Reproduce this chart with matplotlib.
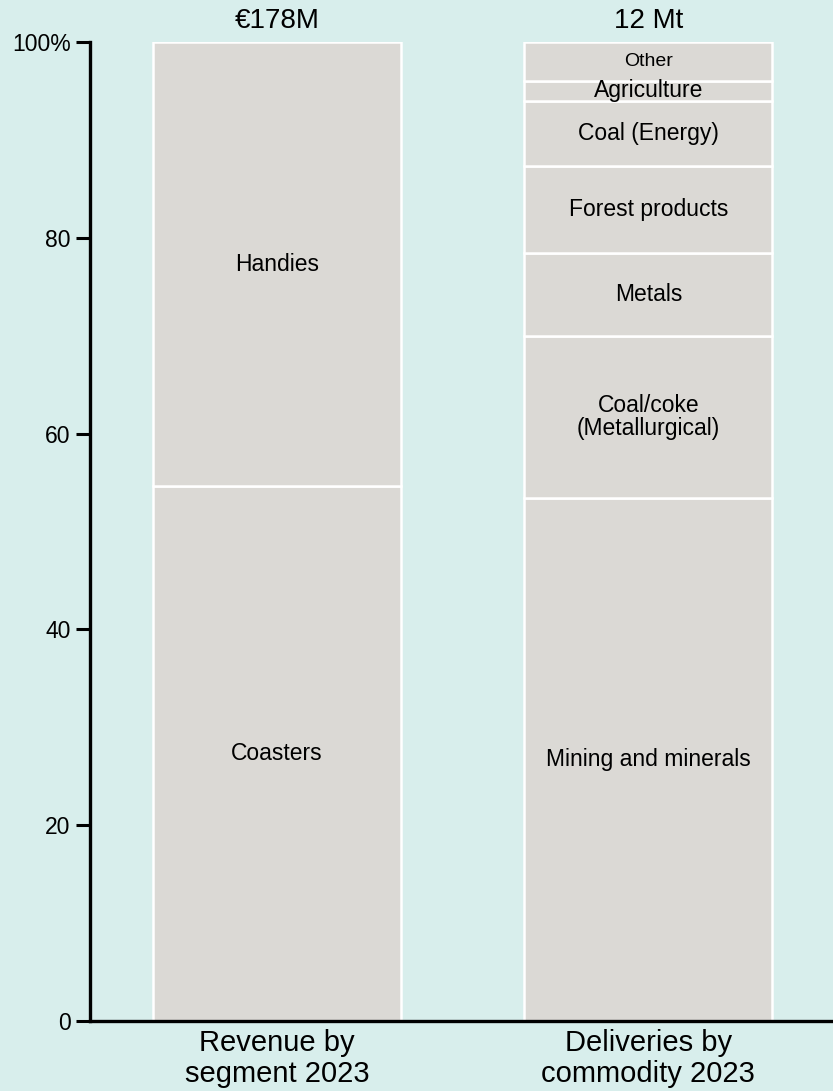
import matplotlib.pyplot as plt

plt.rcParams['font.family'] = ['Liberation Sans', 'DejaVu Sans']

# data
bar_names = ['Revenue by\nsegment 2023', 'Deliveries by\ncommodity 2023']
bar_totals = ['€178M', '12 Mt']

seg_labels = ['Coasters', 'Handies']
seg_values = [54.6, 45.4]

com_labels = ['Mining and minerals', 'Coal/coke\n(Metallurgical)', 'Metals',
              'Forest products', 'Coal (Energy)', 'Agriculture', 'Other']
com_values = [53.4, 16.6, 8.4, 8.9, 6.7, 2.0, 4.0]

bg = '#d8eeec'
fill = '#dbd9d5'

fig = plt.figure(figsize=(8.33, 10.91), dpi=100, facecolor=bg)
ax = fig.add_axes([90/833, 70/1091, 743/833, 979/1091], facecolor=bg)

width = 0.668


def stack(xpos, labels, values, small=()):
    bottom = 0
    for lab, v in zip(labels, values):
        ax.bar(xpos, v, width, bottom=bottom, color=fill, edgecolor='white', linewidth=1.8)
        fs = 14 if lab in small else 16.5
        ax.text(xpos, bottom + v / 2, lab, ha='center', va='center',
                fontsize=fs, linespacing=1.0)
        bottom += v


stack(0, seg_labels, seg_values)
stack(1, com_labels, com_values, small=('Other',))

for i, t in enumerate(bar_totals):
    ax.annotate(t, (i, 100), xytext=(0, 6), textcoords='offset points',
                ha='center', va='bottom', fontsize=20)

ax.set_xlim(-0.503, 1.497)
ax.set_ylim(0, 100)
ax.set_yticks([0, 20, 40, 60, 80, 100])
ax.set_yticklabels(['0', '20', '40', '60', '80', '100%'], fontsize=16.5)
ax.set_xticks([0, 1])
ax.set_xticklabels(bar_names, fontsize=21, linespacing=1.12)
ax.tick_params(axis='x', length=0, pad=6)
ax.tick_params(axis='y', length=10, width=2.2, pad=4)
for s in ['top', 'right']:
    ax.spines[s].set_visible(False)
for s in ['left', 'bottom']:
    ax.spines[s].set_linewidth(2.4)

fig.savefig('out.png', dpi=100, facecolor=bg)
